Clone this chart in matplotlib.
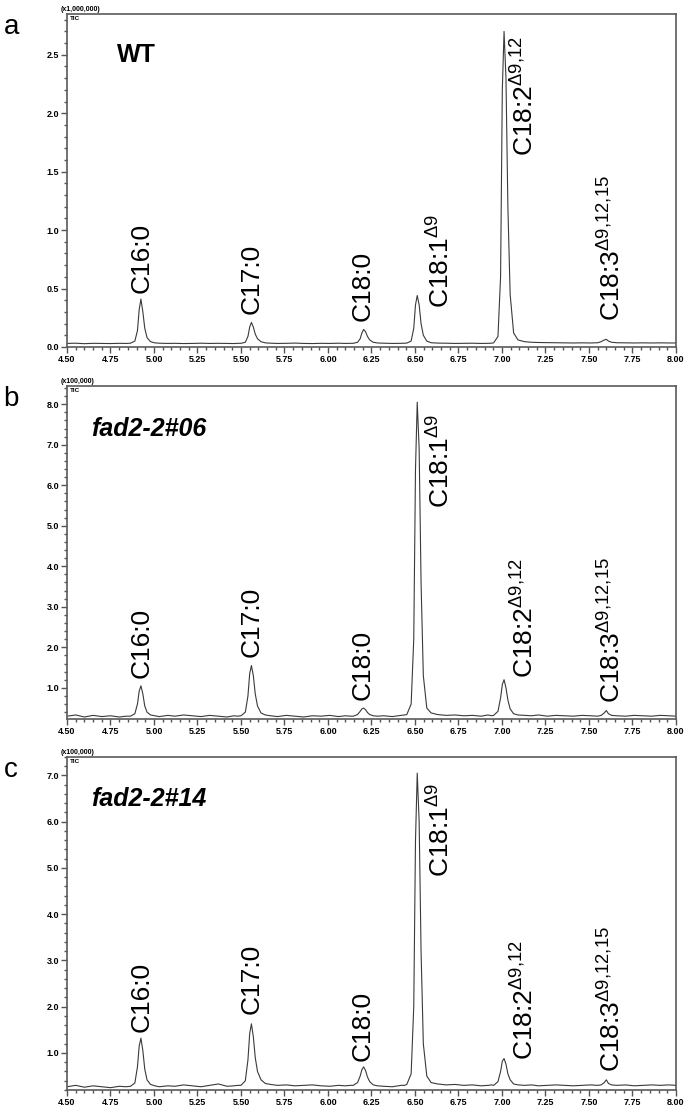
import matplotlib
matplotlib.use('Agg')
import matplotlib.pyplot as plt
from matplotlib.ticker import MultipleLocator, FormatStrFormatter

plt.rcParams['font.family'] = ['Liberation Sans', 'DejaVu Sans']
plt.rcParams['mathtext.fontset'] = 'custom'
plt.rcParams['mathtext.rm'] = 'Liberation Sans'
plt.rcParams['mathtext.it'] = 'Liberation Sans:italic'

# retention time grid (min), shared by the three chromatograms
t = [4.50, 4.55, 4.60, 4.65, 4.70, 4.75, 4.80, 4.84,
     4.865, 4.89, 4.905, 4.915, 4.925, 4.936, 4.947, 4.96, 4.98, 5.005,
     5.03, 5.08, 5.12, 5.17, 5.22, 5.27, 5.32, 5.37, 5.42, 5.46, 5.48,
     5.50, 5.525, 5.54, 5.55, 5.56, 5.571, 5.582, 5.595, 5.615, 5.64,
     5.67, 5.71, 5.76, 5.81, 5.86, 5.91, 5.96, 6.01, 6.06, 6.10, 6.13,
     6.145, 6.17, 6.185, 6.195, 6.205, 6.216, 6.227, 6.24, 6.26, 6.285,
     6.32, 6.37, 6.42, 6.44,
     6.453, 6.478, 6.493, 6.503, 6.513, 6.524, 6.535, 6.548, 6.568, 6.593,
     6.63, 6.68, 6.73, 6.78, 6.83, 6.88, 6.92, 6.94,
     6.952, 6.977, 6.992, 7.002, 7.012, 7.023, 7.034, 7.047, 7.067, 7.092,
     7.13, 7.17, 7.21, 7.26, 7.31, 7.36, 7.41, 7.46, 7.51, 7.55,
     7.57, 7.588, 7.60, 7.612, 7.63,
     7.66, 7.71, 7.76, 7.81, 7.86, 7.91, 7.96, 8.00]

# a: WT (x1,000,000)
tic_wt = [0.030, 0.032, 0.028, 0.031, 0.030, 0.029, 0.031, 0.030,
          0.032, 0.050, 0.140, 0.320, 0.410, 0.300, 0.160, 0.080, 0.045, 0.035,
          0.032, 0.030, 0.031, 0.029, 0.030, 0.032, 0.030, 0.031, 0.030, 0.029, 0.031,
          0.031, 0.040, 0.090, 0.170, 0.210, 0.170, 0.110, 0.070, 0.045, 0.035,
          0.032, 0.030, 0.031, 0.033, 0.030, 0.029, 0.031, 0.030, 0.032, 0.030, 0.031,
          0.031, 0.040, 0.070, 0.120, 0.150, 0.130, 0.090, 0.060, 0.040, 0.034,
          0.032, 0.030, 0.031, 0.032,
          0.033, 0.050, 0.160, 0.360, 0.440, 0.360, 0.200, 0.100, 0.050, 0.036,
          0.033, 0.032, 0.030, 0.031, 0.032, 0.030, 0.031, 0.032,
          0.035, 0.090, 0.600, 2.200, 2.700, 2.300, 1.200, 0.450, 0.120, 0.060,
          0.045, 0.040, 0.038, 0.037, 0.036, 0.035, 0.034, 0.035, 0.034, 0.036,
          0.045, 0.060, 0.065, 0.050, 0.040,
          0.036, 0.035, 0.034, 0.035, 0.034, 0.035, 0.034, 0.034]

# b: fad2-2#06 (x100,000)
tic_06 = [0.30, 0.33, 0.28, 0.32, 0.29, 0.31, 0.28, 0.30,
          0.30, 0.36, 0.60, 0.92, 1.05, 0.85, 0.55, 0.40, 0.33, 0.31,
          0.29, 0.32, 0.30, 0.33, 0.31, 0.29, 0.32, 0.30, 0.28, 0.31, 0.30,
          0.31, 0.40, 0.80, 1.35, 1.55, 1.30, 0.85, 0.55, 0.38, 0.33,
          0.31, 0.29, 0.32, 0.30, 0.28, 0.31, 0.30, 0.32, 0.29, 0.31, 0.30,
          0.30, 0.34, 0.42, 0.48, 0.50, 0.46, 0.39, 0.34, 0.31, 0.30,
          0.31, 0.29, 0.32, 0.33,
          0.34, 0.60, 2.20, 6.40, 8.05, 6.90, 3.60, 1.30, 0.50, 0.38,
          0.34, 0.32, 0.33, 0.31, 0.32, 0.30, 0.33, 0.31,
          0.32, 0.42, 0.75, 1.08, 1.20, 1.00, 0.70, 0.48, 0.36, 0.33,
          0.32, 0.31, 0.33, 0.30, 0.32, 0.31, 0.30, 0.32, 0.31, 0.30,
          0.32, 0.38, 0.44, 0.36, 0.32,
          0.31, 0.30, 0.32, 0.31, 0.30, 0.32, 0.31, 0.30]

# c: fad2-2#14 (x100,000)
tic_14 = [0.27, 0.30, 0.26, 0.29, 0.27, 0.25, 0.28, 0.27,
          0.28, 0.35, 0.70, 1.15, 1.32, 1.05, 0.65, 0.42, 0.32, 0.29,
          0.27, 0.29, 0.28, 0.31, 0.29, 0.27, 0.30, 0.33, 0.28, 0.29, 0.30,
          0.30, 0.40, 0.85, 1.42, 1.63, 1.35, 0.90, 0.60, 0.42, 0.34,
          0.32, 0.30, 0.31, 0.29, 0.30, 0.31, 0.29, 0.28, 0.30, 0.29, 0.30,
          0.30, 0.36, 0.50, 0.64, 0.70, 0.62, 0.48, 0.38, 0.31, 0.29,
          0.28, 0.27, 0.30, 0.30,
          0.32, 0.55, 2.00, 5.60, 7.05, 6.00, 3.20, 1.20, 0.50, 0.36,
          0.33, 0.31, 0.32, 0.30, 0.31, 0.29, 0.30, 0.31,
          0.30, 0.38, 0.60, 0.82, 0.88, 0.76, 0.55, 0.42, 0.33, 0.31,
          0.30, 0.31, 0.29, 0.30, 0.31, 0.30, 0.29, 0.30, 0.31, 0.30,
          0.31, 0.36, 0.42, 0.34, 0.31,
          0.30, 0.31, 0.29, 0.30, 0.31, 0.30, 0.31, 0.30]

peak_names = ['C16:0', 'C17:0', 'C18:0', r'C18:1$^{\mathrm{\Delta}9}$',
              r'C18:2$^{\mathrm{\Delta}9{,}12}$', r'C18:3$^{\mathrm{\Delta}9{,}12{,}15}$']
# label anchor (x = time, y = bottom of label) for each panel
lab_x_wt = [4.93, 5.56, 6.20, 6.65, 7.13, 7.63]
lab_y_wt = [0.46, 0.28, 0.22, 0.33, 1.63, 0.22]
lab_x_06 = [4.93, 5.56, 6.20, 6.65, 7.13, 7.63]
lab_y_06 = [1.25, 1.75, 0.70, 5.45, 1.25, 0.62]
lab_x_14 = [4.93, 5.56, 6.20, 6.65, 7.13, 7.63]
lab_y_14 = [1.45, 1.85, 0.82, 4.80, 0.85, 0.58]

panels = [
    ('a', 'WT', t, tic_wt, (0.0, 2.85), 0.5, 0.1, '(x1,000,000)', lab_x_wt, lab_y_wt, 2.5),
    ('b', 'fad2-2#06', t, tic_06, (0.23, 8.45), 1.0, 0.2, '(x100,000)', lab_x_06, lab_y_06, 7.4),
    ('c', 'fad2-2#14', t, tic_14, (0.20, 7.40), 1.0, 0.2, '(x100,000)', lab_x_14, lab_y_14, 6.5),
]
bottoms = [0.688, 0.3534, 0.0198]
H = 0.2995

fig = plt.figure(figsize=(6.85, 11.12), dpi=100)
narrow = ['Liberation Sans Narrow', 'Liberation Sans']

for (letter, name, x, y, ylim, maj, mnr, scale, lx, ly, name_y), b in zip(panels, bottoms):
    ax = fig.add_axes([0.0978, b, 0.889, H])
    ax.plot(x, y, color='#3a3a3a', lw=0.8)
    ax.set_xlim(4.5, 8.0)
    ax.set_ylim(*ylim)
    ax.xaxis.set_major_locator(MultipleLocator(0.25))
    ax.xaxis.set_minor_locator(MultipleLocator(0.05))
    ax.xaxis.set_major_formatter(FormatStrFormatter('%.2f'))
    ax.yaxis.set_major_locator(MultipleLocator(maj))
    ax.yaxis.set_minor_locator(MultipleLocator(mnr))
    ax.yaxis.set_major_formatter(FormatStrFormatter('%.1f'))
    ax.tick_params(which='major', direction='out', length=4, width=1, color='#555555', pad=1.5)
    ax.tick_params(which='minor', direction='out', length=2.5, width=1, color='#555555')
    for lab in ax.get_xticklabels() + ax.get_yticklabels():
        lab.set_fontfamily(narrow)
        lab.set_fontsize(6.5)
        lab.set_fontweight('bold')
    for s in ax.spines.values():
        s.set_color('#5a5a5a')
        s.set_linewidth(1.2)

    ax.text(-0.01, 1.003, scale, transform=ax.transAxes, fontsize=5, fontweight='bold',
            family=narrow, va='bottom', ha='left')
    ax.text(0.004, 0.995, 'TIC', transform=ax.transAxes, fontsize=4.5, fontweight='bold',
            family=narrow, va='top', ha='left')
    fig.text(0.005, b + H - 0.012, letter, fontsize=20, va='center', ha='left')

    style = 'normal' if name == 'WT' else 'italic'
    xn = 4.79 if name == 'WT' else 4.64
    ax.text(xn, name_y, name, fontsize=18, fontweight='bold', style=style, va='center', ha='left')

    for px, py, nm in zip(lx, ly, peak_names):
        ax.text(px, py, nm, rotation=90, fontsize=19, ha='center', va='bottom')

fig.savefig('out.png', dpi=100)
